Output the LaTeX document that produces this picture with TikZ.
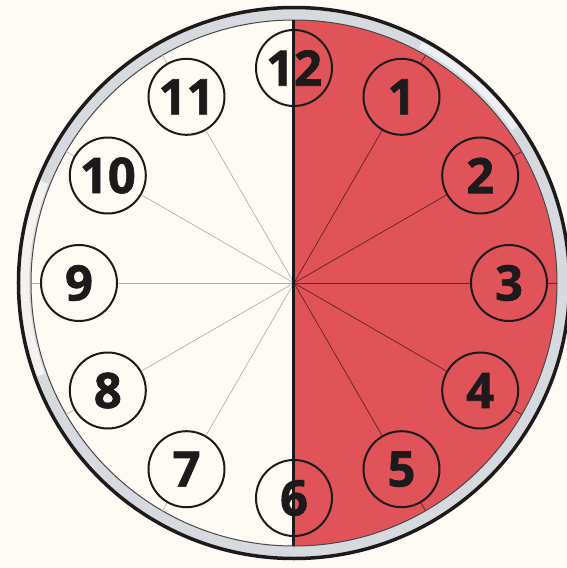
\documentclass[tikz,border=0pt]{standalone}
\usepackage{fontspec}
\setmainfont{Open Sans}
\newfontfamily\numfont{Open Sans}[BoldFeatures={FakeBold=1.3}]
\definecolor{bgc}{RGB}{253,251,244}
\definecolor{clockred}{RGB}{224,83,89}
\definecolor{ringgray}{RGB}{214,217,221}
\definecolor{ink}{RGB}{30,26,27}
\definecolor{redline}{RGB}{110,38,42}
\definecolor{greyline}{RGB}{170,170,170}
\tikzset{
  numcircle/.style={circle, draw=ink, line width=2pt, minimum size=76pt, inner sep=0pt,
    text=ink, font=\numfont\fontsize{49}{49}\selectfont\bfseries},
  whiteray/.style={draw=greyline, line width=0.6pt},
  redray/.style={draw=redline, line width=0.8pt},
}
\begin{document}
\begin{tikzpicture}[x=1pt,y=1pt]
\useasboundingbox[fill=bgc] (-294,-285) rectangle (273,283);
% rim
\fill[ringgray, even odd rule] (0,0) circle (276) (0,0) circle (263);
\draw[bgc, line width=9pt, opacity=0.75] (158:269.5) arc (158:200:269.5);
\draw[white, line width=7pt, opacity=0.6] (35:269.5) arc (35:62:269.5);
\fill[clockred] (0,263) arc (90:-90:263) -- cycle;
\draw[line width=1pt, ink!80] (0,0) circle (263);
\draw[line width=3.5pt, ink] (0,0) circle (275.5);
\coordinate (c) at (0,0);
% numbers
\foreach \h in {1,...,12} {
  \pgfmathsetmacro{\ang}{90-30*\h}
  \node[numcircle] (n\h) at (\ang:215) {\h};
  \coordinate (r\h) at (\ang:263);
}
% rays
\foreach \h in {7,...,11} {
  \draw[whiteray] (c) -- (n\h);
  \draw[whiteray] (n\h) -- (r\h);
}
\foreach \h in {1,...,5} {
  \draw[redray] (c) -- (n\h);
  \draw[redray] (n\h) -- (r\h);
}
% divider
\coordinate (top) at (0,263);
\coordinate (bot) at (0,-263);
\draw[line width=3pt, ink] (top) -- (bot);
\end{tikzpicture}
\end{document}
